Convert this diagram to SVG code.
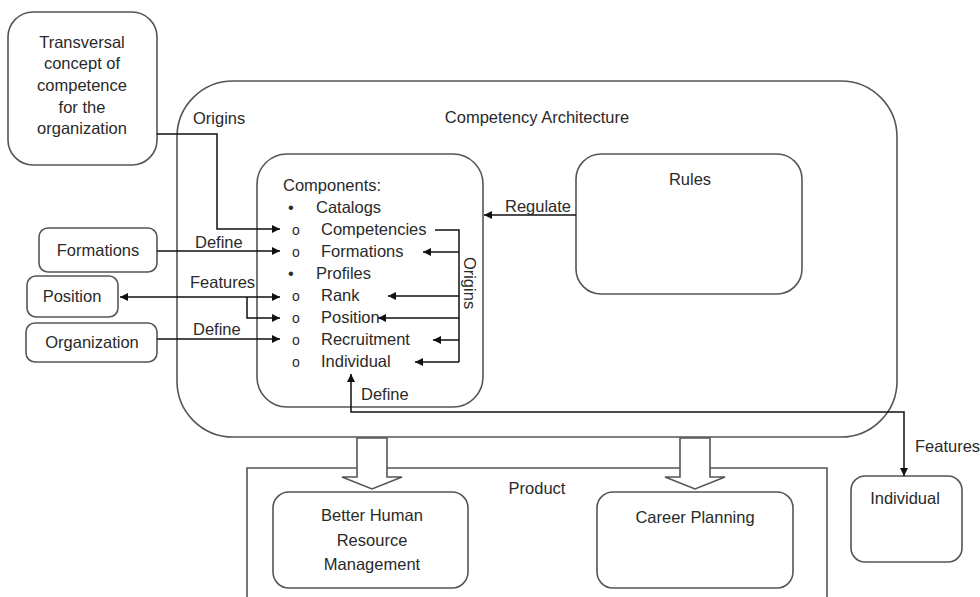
<svg xmlns="http://www.w3.org/2000/svg" width="980" height="597" viewBox="0 0 980 597">
<defs>
<style>
text{font-family:"Liberation Sans",Arial,sans-serif;font-size:16.5px;fill:#2a2a2a}
.box{fill:none;stroke:#555;stroke-width:1.6}
.wbox{fill:#fff;stroke:#555;stroke-width:1.6}
.c{fill:none;stroke:#111;stroke-width:1.5}
.mid{text-anchor:middle}
.o{font-size:14px}
</style>
<marker id="ah" viewBox="0 0 10 10" refX="10" refY="5" markerWidth="9" markerHeight="8" markerUnits="userSpaceOnUse" orient="auto-start-reverse">
<path d="M0,0 L10,5 L0,10 z" fill="#111"/>
</marker>
</defs>
<rect width="980" height="597" fill="#fff"/>

<g id="competency-architecture">
<rect class="box" x="177" y="81" width="720" height="356" rx="56"/>
<text class="mid" x="537" y="123">Competency Architecture</text>
</g>

<g id="transversal">
<rect class="wbox" x="8" y="12" width="149" height="153" rx="25"/>
<text class="mid" x="82" y="48">Transversal</text>
<text class="mid" x="82" y="69">concept of</text>
<text class="mid" x="82" y="91">competence</text>
<text class="mid" x="82" y="113">for the</text>
<text class="mid" x="82" y="134">organization</text>
</g>

<g id="components">
<rect class="box" x="257" y="154" width="226" height="253" rx="30"/>
<text x="283" y="191">Components:</text>
<text x="288" y="213">•</text><text x="316" y="213">Catalogs</text>
<text x="292" y="235" class="o">o</text><text x="321" y="235">Competencies</text>
<text x="292" y="257" class="o">o</text><text x="321" y="257">Formations</text>
<text x="288" y="279">•</text><text x="316" y="279">Profiles</text>
<text x="292" y="301" class="o">o</text><text x="321" y="301">Rank</text>
<text x="292" y="323" class="o">o</text><text x="321" y="323">Position</text>
<text x="292" y="345" class="o">o</text><text x="321" y="345">Recruitment</text>
<text x="292" y="367" class="o">o</text><text x="321" y="367">Individual</text>
</g>

<g id="rules">
<rect class="box" x="576" y="154" width="226" height="140" rx="25"/>
<text class="mid" x="690" y="185">Rules</text>
</g>

<g id="formations">
<rect class="box" x="39" y="228" width="118" height="44" rx="9"/>
<text class="mid" x="98" y="256">Formations</text>
</g>

<g id="position">
<rect class="box" x="27" y="276" width="91" height="41" rx="9"/>
<text class="mid" x="72" y="302">Position</text>
</g>

<g id="organization">
<rect class="box" x="26" y="323" width="131" height="39" rx="9"/>
<text class="mid" x="92" y="348">Organization</text>
</g>

<g id="product">
<path class="box" d="M247,600 V468 H827 V600"/>
<text class="mid" x="537" y="494">Product</text>
</g>

<g id="better-hrm">
<rect class="box" x="273" y="492" width="195" height="96" rx="16"/>
<text class="mid" x="372" y="521">Better Human</text>
<text class="mid" x="372" y="546">Resource</text>
<text class="mid" x="372" y="570">Management</text>
</g>

<g id="career-planning">
<rect class="box" x="597" y="492" width="196" height="96" rx="16"/>
<text class="mid" x="695" y="523">Career Planning</text>
</g>

<g id="individual">
<rect class="box" x="851" y="476" width="111" height="86" rx="14"/>
<text class="mid" x="905" y="504">Individual</text>
</g>

<g id="connectors">
<path class="c" d="M157,134 H217 V229 H280" marker-end="url(#ah)"/>
<path class="c" d="M157,251 H280" marker-end="url(#ah)"/>
<path class="c" d="M120,297 H280" marker-start="url(#ah)" marker-end="url(#ah)"/>
<path class="c" d="M247,297 V318 H280" marker-end="url(#ah)"/>
<path class="c" d="M157,339 H280" marker-end="url(#ah)"/>
<path class="c" d="M576,215 H484" marker-end="url(#ah)"/>
<path class="c" d="M435,230 H459 V362"/>
<path class="c" d="M459,252 H423" marker-end="url(#ah)"/>
<path class="c" d="M459,296 H388" marker-end="url(#ah)"/>
<path class="c" d="M459,318 H378" marker-end="url(#ah)"/>
<path class="c" d="M459,340 H433" marker-end="url(#ah)"/>
<path class="c" d="M459,362 H415" marker-end="url(#ah)"/>
<path class="c" d="M351,374 V412 H904 V476" marker-start="url(#ah)" marker-end="url(#ah)"/>
<polygon class="wbox" points="357,438 387,438 387,477 402,477 372,489 342,477 357,477"/>
<polygon class="wbox" points="680,438 710,438 710,477 725,477 695,489 665,477 680,477"/>
<text x="193" y="124">Origins</text>
<text x="195" y="248">Define</text>
<text x="190" y="288">Features</text>
<text x="193" y="335">Define</text>
<text x="505" y="212">Regulate</text>
<text x="361" y="400">Define</text>
<text x="915" y="452">Features</text>
<text class="mid" transform="translate(464,283) rotate(90)">Origins</text>
</g>
</svg>
